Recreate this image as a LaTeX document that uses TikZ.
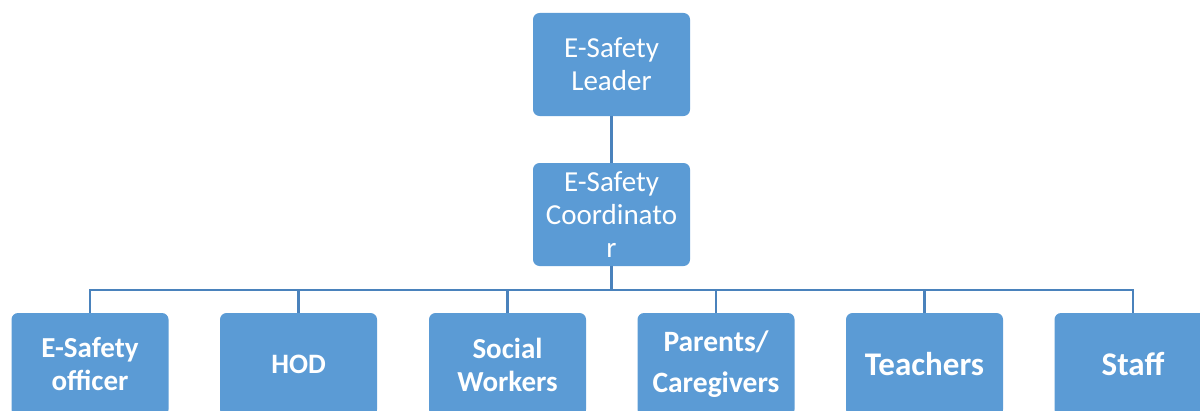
\documentclass[tikz,border=0pt]{standalone}
\usepackage{fontspec}
\setmainfont{Carlito}
\usetikzlibrary{positioning}
\definecolor{boxblue}{HTML}{5B9BD5}
\definecolor{lineblue}{HTML}{4A82BC}

\begin{document}
\begin{tikzpicture}[box style/.style={fill=boxblue,rounded corners=0.13cm,minimum width=3.14cm,minimum height=2.06cm,
                      text=white,align=center,inner sep=0pt,font=\fontsize{16.5}{18.8}\selectfont},
                    role style/.style={box style,font=\fontsize{16.5}{18.8}\selectfont\bfseries},
                    link style/.style={draw=lineblue,line width=1.6pt}]
        \useasboundingbox (0,0) rectangle (24,-8.2);
        \node[box style] (leader) at (12.23,-1.29) {E-Safety\\Leader};
        \node[box style] (coord) at (12.23,-4.29) {E-Safety\\Coordinato\\r};
        \coordinate (bus) at (12.23,-5.8);
        \node[role style] (officer) at (1.8,-7.29) {E-Safety\\officer};
        \node[role style,font=\fontsize{16}{18.8}\selectfont\bfseries] (hod) at (5.97,-7.29) {HOD};
        \node[role style] (social) at (10.15,-7.29) {Social\\Workers};
        \node[role style,font=\fontsize{16.8}{23.3}\selectfont\bfseries] (parents) at (14.32,-7.29) {Parents/\\Caregivers};
        \node[role style,font=\fontsize{18.8}{20}\selectfont\bfseries] (teachers) at (18.49,-7.29) {Teachers};
        \node[role style,font=\fontsize{18.8}{20}\selectfont\bfseries] (staff) at (22.66,-7.29) {Staff};
        \draw[link style] (leader) -- (coord);
        \foreach \n in {officer,hod,social,parents,teachers,staff}
            \draw[link style] (coord.south) -- (coord.south |- bus) -| (\n.north);
\end{tikzpicture}
\end{document}
